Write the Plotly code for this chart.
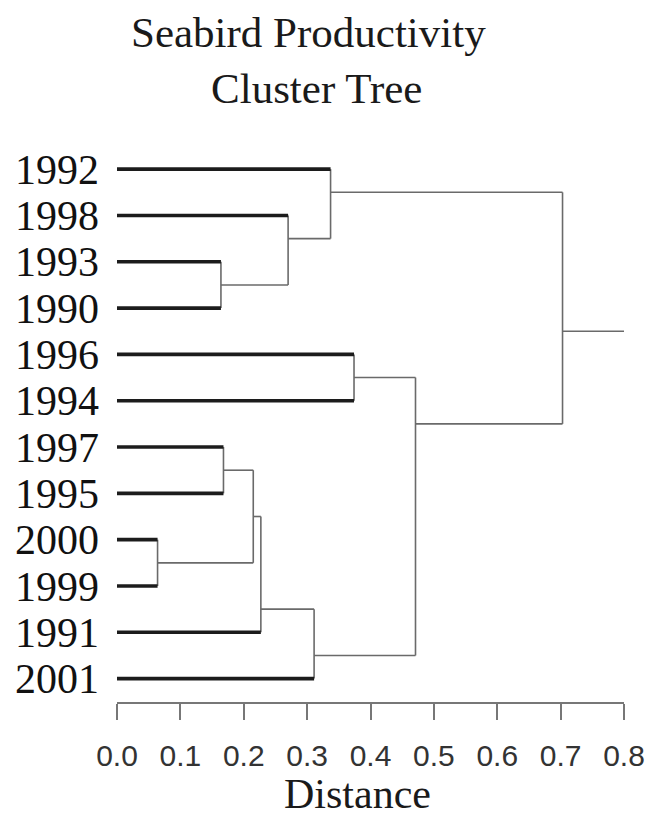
import plotly.graph_objects as go

# Leaf order top to bottom
years = ["1992", "1998", "1993", "1990", "1996", "1994",
         "1997", "1995", "2000", "1999", "1991", "2001"]

# Agglomeration steps: (upper child, lower child, join distance)
# children are leaf names or earlier step labels
merge_names = ["A", "B", "C", "D", "E", "F", "G", "H", "I", "J", "K"]
merge_upper = ["1993", "1998", "1992", "1996", "1997", "2000", "E", "G", "H", "D", "C"]
merge_lower = ["1990", "A", "B", "1994", "1995", "1999", "F", "1991", "2001", "I", "J"]
merge_dist = [0.164, 0.270, 0.337, 0.374, 0.168, 0.064, 0.215, 0.227, 0.311, 0.471, 0.703]

x_ticks = [0.0, 0.1, 0.2, 0.3, 0.4, 0.5, 0.6, 0.7, 0.8]
x_max = 0.8

# --- build segments -------------------------------------------------------
# each cluster: (first leaf index, last leaf index, y of its output line, height)
clusters = {y: (i, i, float(i), 0.0) for i, y in enumerate(years)}
parent_dist = {}
for name, up, lo, d in zip(merge_names, merge_upper, merge_lower, merge_dist):
    parent_dist[up] = d
    parent_dist[lo] = d
    f_up, l_up, _, _ = clusters[up]
    f_lo, l_lo, _, _ = clusters[lo]
    ypos = (l_up + f_lo) / 2.0
    clusters[name] = (f_up, l_lo, ypos, d)
root = merge_names[-1]
parent_dist[root] = x_max

leaf_x, leaf_y = [], []
for y in years:
    i = clusters[y][2]
    leaf_x += [0.0, parent_dist[y], None]
    leaf_y += [i, i, None]

node_x, node_y = [], []
for name, up, lo, d in zip(merge_names, merge_upper, merge_lower, merge_dist):
    # vertical connector between the two children
    node_x += [d, d, None]
    node_y += [clusters[up][2], clusters[lo][2], None]
    # horizontal stem up to the parent join
    ypos = clusters[name][2]
    node_x += [d, parent_dist[name], None]
    node_y += [ypos, ypos, None]

fig = go.Figure()
fig.add_trace(go.Scatter(x=node_x, y=node_y, mode="lines",
                         line=dict(color="#6a6a6a", width=1.6),
                         hoverinfo="skip", showlegend=False))
fig.add_trace(go.Scatter(x=leaf_x, y=leaf_y, mode="lines",
                         line=dict(color="#1c1c1c", width=3.6),
                         hoverinfo="skip", showlegend=False))

W, H = 658, 818
L, R, T, B = 117, 34, 146, 116
pw, ph = W - L - R, H - T - B


def px(xp):
    return (xp - L) / pw


def py(yp):
    return 1 - (yp - T) / ph


serif = "Liberation Serif, Times New Roman, serif"
fig.add_annotation(text="Seabird Productivity", xref="paper", yref="paper",
                   x=px(308), y=py(33), xanchor="center", yanchor="middle",
                   showarrow=False, font=dict(family=serif, size=43, color="#1a1a1a"))
fig.add_annotation(text="Cluster Tree", xref="paper", yref="paper",
                   x=px(316), y=py(89), xanchor="center", yanchor="middle",
                   showarrow=False, font=dict(family=serif, size=43, color="#1a1a1a"))
fig.add_annotation(text="Distance", xref="paper", yref="paper",
                   x=px(357), y=py(819), xanchor="center", yanchor="bottom",
                   showarrow=False, font=dict(family=serif, size=42, color="#1a1a1a"))

fig.update_layout(
    width=W, height=H,
    margin=dict(l=L, r=R, t=T, b=B),
    paper_bgcolor="white", plot_bgcolor="white",
    xaxis=dict(range=[0, x_max], tickvals=x_ticks,
               ticktext=[f"{v:.1f}" for v in x_ticks],
               showgrid=False, zeroline=False,
               showline=True, linecolor="#777777", linewidth=1.6,
               ticks="outside", ticklen=16, tickwidth=1.6, tickcolor="#777777",
               ticklabelstandoff=10,
               tickfont=dict(family="Liberation Sans, Arial, sans-serif", size=30, color="#333333")),
    yaxis=dict(range=[len(years) - 0.495, -0.5], tickvals=list(range(len(years))),
               ticktext=years, showgrid=False, zeroline=False, showline=False,
               ticks="", ticklabelstandoff=17,
               tickfont=dict(family=serif, size=42, color="#111111")),
)

fig.write_html("out.html")
